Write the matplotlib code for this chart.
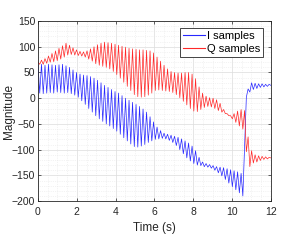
import numpy as np
import matplotlib.pyplot as plt
from matplotlib.ticker import MultipleLocator

plt.rcParams['font.family'] = ['Liberation Sans', 'DejaVu Sans']

# samples, alternating peak / trough
i_samples = [65, 10, 66, 9, 64, 10, 66, 11, 65, 10,
             64, 12, 65, 11, 66, 10, 63, 11, 60, 9,
             55, 6, 50, 2, 47, -5, 45, -12, 44, -20,
             42, -27, 39, -34, 35, -40, 30, -45, 25, -50,
             21, -54, 17, -59, 13, -64, 10, -70, 5, -77,
             0, -83, -4, -89, -8, -94, -12, -95, -16, -93,
             -21, -90, -27, -86, -36, -83, -46, -80, -56, -79,
             -63, -78, -68, -79, -70, -82, -72, -86, -74, -92,
             -76, -100, -79, -108, -83, -116, -87, -122, -93, -127,
             -102, -130, -115, -131, -124, -133, -127, -134, -129, -136,
             -131, -140, -133, -145, -134, -151, -135, -158, -137, -165,
             -139, -172, -141, -178, -143, -184, -146, -190, -95, 2,
             18, 12, 30, 17, 29, 19, 28, 21, 28, 22,
             27, 23, 27, 25]

q_samples = [70, 66, 74, 66, 77, 68, 82, 70, 87, 71,
             92, 73, 97, 76, 102, 80, 107, 84, 103, 85,
             98, 84, 94, 83, 91, 82, 90, 80, 92, 76,
             96, 72, 100, 67, 104, 64, 107, 62, 109, 60,
             108, 57, 107, 52, 105, 46, 103, 39, 101, 31,
             99, 23, 97, 15, 96, 7, 95, 3, 94, 2,
             94, 3, 93, 6, 92, 10, 88, 15, 80, 16,
             72, 15, 64, 14, 57, 13, 52, 11, 50, 7,
             49, 1, 49, -6, 50, -13, 50, -20, 47, -25,
             38, -26, 22, -22, 10, -18, 4, -16, 1, -17,
             0, -20, -3, -24, -10, -27, -22, -30, -30, -34,
             -34, -40, -30, -47, -25, -54, -22, -60, -24, -104,
             -75, -133, -102, -126, -110, -124, -112, -121, -113, -119,
             -114, -118, -115, -116]

t = np.linspace(0, 12, len(i_samples))

fig = plt.figure(figsize=(2.9, 2.42), dpi=100)
ax = fig.add_axes([0.131, 0.169, 0.803, 0.744])

ax.plot(t, i_samples, color='#2828ff', lw=0.5, label='I samples')
ax.plot(t, q_samples, color='#ff2828', lw=0.5, label='Q samples')

ax.set_xlim(0, 12)
ax.set_ylim(-200, 150)
ax.xaxis.set_major_locator(MultipleLocator(2))
ax.yaxis.set_major_locator(MultipleLocator(50))
ax.xaxis.set_minor_locator(MultipleLocator(0.5))
ax.yaxis.set_minor_locator(MultipleLocator(10))
ax.grid(True, which='major', color='#dcdcdc', lw=0.5)
ax.grid(True, which='minor', color='#e8e8e8', lw=0.5, ls=':')
ax.set_axisbelow(True)

ax.tick_params(which='both', direction='in', top=True, right=True,
               labelsize=7.5, colors='#262626', length=2.5, width=0.5)
ax.tick_params(axis='y', pad=2)
ax.tick_params(axis='x', pad=4)
ax.tick_params(which='minor', length=0)
for s in ax.spines.values():
    s.set_color('#262626')
    s.set_linewidth(0.6)

ax.set_xlabel('Time (s)', fontsize=8.5, color='#262626', labelpad=4)
ax.set_ylabel('Magnitude', fontsize=8.5, color='#262626')
ax.yaxis.set_label_coords(-0.10, 0.5)

leg = ax.legend(loc='upper right', bbox_to_anchor=(0.966, 0.961),
                borderaxespad=0, fontsize=8, fancybox=False,
                edgecolor='#262626', framealpha=1, handlelength=2.0,
                borderpad=0.25, labelspacing=0.3, handletextpad=0.15)
leg.get_frame().set_linewidth(0.6)
for line in leg.get_lines():
    line.set_linewidth(0.8)

plt.savefig('out.png', dpi=100)
